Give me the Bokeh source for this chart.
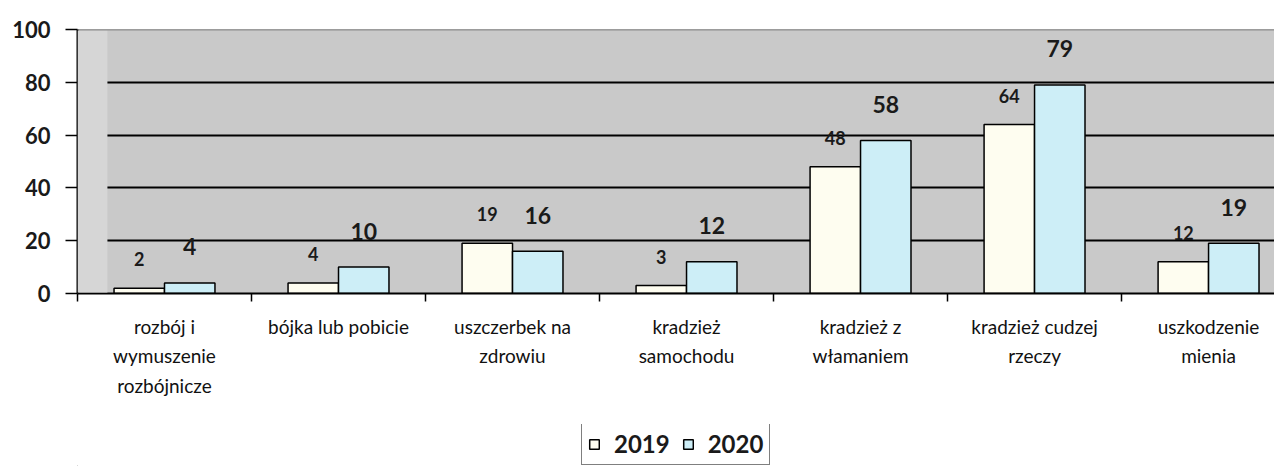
from bokeh.plotting import figure
from bokeh.layouts import column
from bokeh.models import Range1d, FixedTicker, Legend, LegendItem, Span, ColumnDataSource, BoxAnnotation
from bokeh.core.properties import value
from bokeh.embed import file_html
from bokeh.resources import INLINE

categories = ["rozbój i\nwymuszenie\nrozbójnicze", "bójka lub pobicie", "uszczerbek na\nzdrowiu",
              "kradzież\nsamochodu", "kradzież z\nwłamaniem", "kradzież cudzej\nrzeczy", "uszkodzenie\nmienia"]
series_names = ["2019", "2020"]
values_2019 = [2, 4, 19, 3, 48, 64, 12]
values_2020 = [4, 10, 16, 12, 58, 79, 19]
y_ticks = [0, 20, 40, 60, 80, 100]

colors = ["#fefdf0", "#cdeef7"]
n = len(categories)
centers = [i + 0.5 for i in range(n)]
bw = 0.29

p = figure(width=1274, height=424, output_backend="svg", toolbar_location=None,
           x_range=Range1d(0, 6.879), y_range=Range1d(0, 100),
           min_border_left=77, min_border_right=0, min_border_top=29, min_border_bottom=131)
p.background_fill_color = "#c9c9c9"
p.border_fill_color = "white"
p.outline_line_color = None

src19 = ColumnDataSource(dict(x=[c - bw / 2 for c in centers], top=values_2019,
                              lab=[str(v) for v in values_2019]))
src20 = ColumnDataSource(dict(x=[c + bw / 2 for c in centers], top=values_2020,
                              lab=[str(v) for v in values_2020]))

p.vbar(x="x", top="top", width=bw, bottom=0, source=src19, fill_color=colors[0],
       line_color="black", line_width=1.5)
p.vbar(x="x", top="top", width=bw, bottom=0, source=src20, fill_color=colors[1],
       line_color="black", line_width=1.5)

p.text(x="x", y="top", text="lab", source=src19, text_align="center", text_baseline="middle",
       y_offset=-29, text_font=value("Lato"), text_font_style="bold", text_font_size="18px",
       text_color="#1a1a1a")
p.text(x="x", y="top", text="lab", source=src20, text_align="center", text_baseline="middle",
       y_offset=-36, text_font=value("Lato"), text_font_style="bold", text_font_size="23px",
       text_color="#1a1a1a")

# grid
p.xgrid.visible = False
p.ygrid.ticker = FixedTicker(ticks=[20, 40, 60, 80])
p.ygrid.grid_line_color = "black"
p.ygrid.grid_line_width = 2
p.add_layout(BoxAnnotation(left=0, right=0.172, bottom=0.4, top=99.6, fill_color="#d6d6d6",
                           fill_alpha=1, line_color=None))
p.add_layout(Span(location=100, dimension="width", line_color="#555555", line_width=1.5))

# y axis
p.yaxis.ticker = FixedTicker(ticks=y_ticks)
p.yaxis.axis_line_color = "black"
p.yaxis.axis_line_width = 2
p.yaxis.major_tick_out = 12
p.yaxis.major_tick_in = 0
p.yaxis.major_tick_line_width = 1.5
p.yaxis.minor_tick_line_color = None
p.yaxis.major_label_standoff = 15
p.yaxis.major_label_text_font = "Lato"
p.yaxis.major_label_text_font_style = "bold"
p.yaxis.major_label_text_font_size = "22px"
p.yaxis.major_label_text_color = "#1a1a1a"

# x axis
p.xaxis.ticker = FixedTicker(ticks=centers, minor_ticks=list(range(n + 1)))
p.xaxis.major_label_overrides = {c: lab for c, lab in zip(centers, categories)}
p.xaxis.axis_line_color = "black"
p.xaxis.axis_line_width = 2
p.xaxis.major_tick_out = 0
p.xaxis.major_tick_in = 0
p.xaxis.minor_tick_out = 8
p.xaxis.minor_tick_in = 0
p.xaxis.minor_tick_line_color = "black"
p.xaxis.minor_tick_line_width = 1.5
p.xaxis.major_label_standoff = 13
p.xaxis.major_label_text_font = "Lato"
p.xaxis.major_label_text_font_size = "19px"
p.xaxis.major_label_text_color = "#111111"
p.xaxis.major_label_text_line_height = 1.3

# legend strip below the chart
lf = figure(width=1274, height=42, output_backend="svg", toolbar_location=None,
            x_range=Range1d(0, 1), y_range=Range1d(0, 1),
            x_axis_location=None, y_axis_location=None,
            min_border_left=77, min_border_right=0, min_border_top=0, min_border_bottom=0)
lf.grid.visible = False
lf.outline_line_color = None
lf.background_fill_color = "white"
offscreen = dict(x=[-5], top=[-5], bottom=[-6])
lr19 = lf.vbar(x="x", top="top", bottom="bottom", width=0.1, source=ColumnDataSource(offscreen),
               fill_color=colors[0], line_color="black", line_width=1.5)
lr20 = lf.vbar(x="x", top="top", bottom="bottom", width=0.1, source=ColumnDataSource(offscreen),
               fill_color=colors[1], line_color="black", line_width=1.5)

legend = Legend(items=[LegendItem(label=series_names[0], renderers=[lr19]),
                       LegendItem(label=series_names[1], renderers=[lr20])],
                orientation="horizontal", location=(504, 1))
legend.label_text_font = "Lato"
legend.label_text_font_style = "bold"
legend.label_text_font_size = "24px"
legend.label_text_color = "#1a1a1a"
legend.glyph_width = 12
legend.glyph_height = 12
legend.label_standoff = 14
legend.spacing = 12
legend.padding = 6
legend.margin = 0
legend.border_line_color = "black"
legend.border_line_width = 1.5
legend.background_fill_alpha = 1
lf.add_layout(legend, "center")

layout = column(p, lf, spacing=0)
open("out.html", "w").write(file_html(layout, INLINE))
